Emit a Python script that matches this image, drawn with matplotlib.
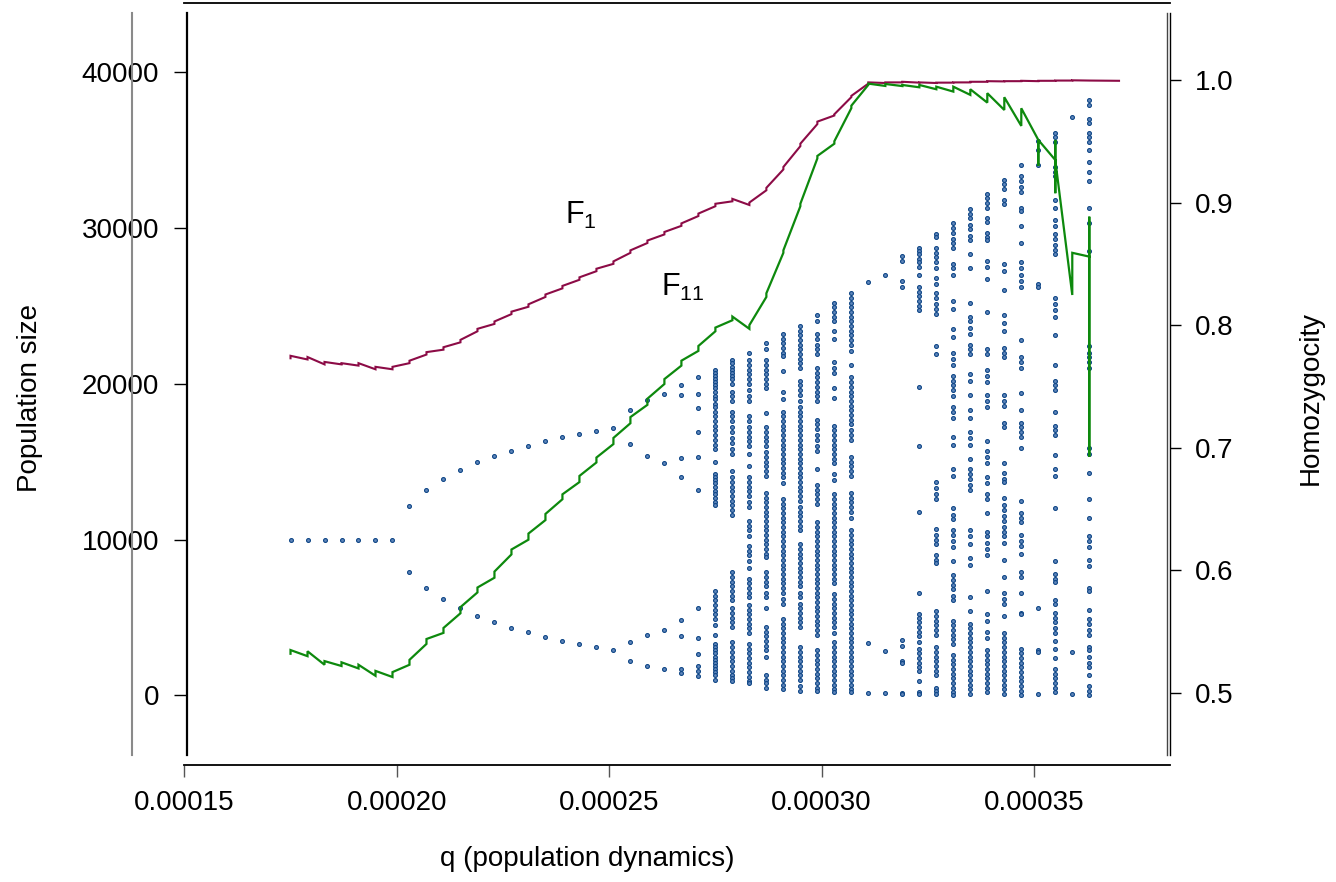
import matplotlib.pyplot as plt

plt.rcParams['font.family'] = ['Liberation Sans', 'DejaVu Sans']
plt.rcParams['mathtext.fontset'] = 'custom'
plt.rcParams['mathtext.rm'] = 'Liberation Sans'

# q values (one column of the bifurcation diagram each)
q = [0.000175, 0.000179, 0.000183, 0.000187, 0.000191, 0.000195, 0.000199,
     0.000203, 0.000207, 0.000211, 0.000215, 0.000219, 0.000223, 0.000227,
     0.000231, 0.000235, 0.000239, 0.000243, 0.000247, 0.000251, 0.000255,
     0.000259, 0.000263, 0.000267, 0.000271, 0.000275, 0.000279, 0.000283,
     0.000287, 0.000291, 0.000295, 0.000299, 0.000303, 0.000307, 0.000311,
     0.000315, 0.000319, 0.000323, 0.000327, 0.000331, 0.000335, 0.000339,
     0.000343, 0.000347, 0.000351, 0.000355, 0.000359, 0.000363]
# F1 homozygosity was run one step further
q_f1 = q + [0.00037]

# population sizes visited at each q (thousands)
pop_k = [
    [10.0], [10.0], [10.0], [10.0], [10.0], [10.0], [10.0],
    [12.14, 7.94], [13.18, 6.92], [13.91, 6.17], [14.49, 5.61],
    [14.96, 5.12], [15.36, 4.72], [15.70, 4.35], [16.02, 4.05],
    [16.31, 3.77], [16.56, 3.52], [16.78, 3.28], [16.99, 3.09],
    [17.16, 2.90],
    [18.33, 16.13, 3.45, 2.23],
    [18.96, 15.38, 3.88, 1.91],
    [19.36, 14.92, 4.18, 1.70],
    [19.92, 19.26, 15.25, 14.04, 4.84, 3.82, 1.70, 1.46],
    [20.43, 19.34, 18.44, 16.90, 15.30, 13.18, 5.61, 3.69, 2.66, 1.89, 1.57, 1.25],
    [20.9, 20.7, 20.5, 20.3, 20.1, 19.9, 19.7, 19.5, 19.2, 19.0, 18.7, 18.5, 18.2,
     17.9, 17.6, 17.3, 17.0, 16.7, 16.4, 16.1, 15.8, 15.0, 14.2, 14.0, 13.8, 13.6,
     13.4, 13.1, 12.9, 12.7, 12.4, 12.2, 6.7, 6.4, 6.1, 5.8, 5.5, 5.2, 4.9, 4.5,
     3.85, 3.3, 3.1, 2.9, 2.7, 2.5, 2.3, 2.1, 1.9, 1.7, 1.5, 1.3, 1.0],
    [21.5, 21.3, 21.1, 20.9, 20.7, 20.5, 20.3, 20.0, 19.5, 19.2, 18.9, 18.2, 17.9,
     17.6, 17.2, 16.9, 16.5, 16.2, 15.8, 15.5, 14.4, 14.0, 13.7, 13.4, 13.1, 12.8,
     12.5, 12.2, 11.9, 11.6, 7.9, 7.6, 7.3, 7.0, 6.7, 6.4, 6.1, 5.6, 5.3, 5.0, 4.7,
     4.4, 3.4, 3.1, 2.8, 2.5, 2.2, 1.9, 1.6, 1.3, 1.1, 0.9],
    [22.0, 21.5, 21.2, 20.9, 20.6, 20.3, 20.0, 19.6, 19.2, 18.9, 17.9, 17.6, 17.2,
     16.9, 16.6, 16.3, 16.0, 15.5, 14.7, 14.0, 13.7, 13.4, 13.1, 12.8, 12.4, 12.1,
     11.2, 10.9, 10.6, 10.2, 9.6, 9.3, 9.0, 8.6, 8.2, 7.5, 7.2, 6.9, 6.6, 6.3, 5.8,
     5.5, 5.2, 4.9, 4.6, 4.3, 4.0, 3.3, 3.0, 2.7, 2.4, 2.1, 1.8, 1.5, 1.2, 0.9, 0.8],
    [22.6, 22.2, 21.5, 21.2, 20.9, 20.6, 20.3, 20.0, 19.7, 18.1, 17.2, 16.9, 16.6,
     16.3, 16.0, 15.6, 15.3, 15.0, 14.7, 14.4, 14.1, 13.0, 12.7, 12.4, 12.1, 11.8,
     11.5, 11.2, 10.9, 10.6, 10.3, 10.0, 9.7, 9.4, 9.1, 8.9, 7.9, 7.6, 7.3, 7.0, 6.6,
     6.3, 5.6, 4.4, 4.1, 3.8, 3.5, 3.2, 2.9, 2.5, 1.3, 1.0, 0.8, 0.5],
    [23.2, 22.9, 22.6, 22.3, 22.0, 21.8, 20.8, 19.5, 19.0, 18.2, 17.9, 17.6, 17.3,
     17.0, 16.7, 16.4, 16.1, 15.8, 15.5, 15.2, 14.9, 14.6, 14.3, 14.0, 13.6, 12.6,
     12.3, 12.0, 11.7, 11.4, 11.1, 10.8, 10.5, 10.2, 9.9, 9.6, 9.3, 9.0, 8.7, 8.4,
     8.1, 7.8, 7.5, 7.2, 6.9, 6.6, 6.2, 5.9, 4.9, 4.6, 4.3, 4.0, 3.7, 3.4, 3.1, 2.8,
     2.5, 2.2, 1.9, 1.6, 1.3, 1.0, 0.7, 0.4],
    [23.7, 23.4, 23.1, 22.8, 22.5, 22.2, 21.9, 21.6, 21.3, 21.0, 20.2, 19.9, 19.6,
     19.3, 18.9, 18.5, 18.2, 17.9, 17.6, 17.3, 17.0, 16.7, 16.4, 16.1, 15.8, 15.5,
     15.2, 14.9, 14.6, 14.3, 14.0, 13.7, 13.4, 13.1, 12.8, 12.5, 12.1, 11.8, 11.5,
     11.2, 10.9, 10.6, 9.7, 9.4, 9.1, 8.8, 8.5, 8.2, 7.9, 7.6, 7.3, 7.0, 6.6, 6.3,
     5.9, 5.6, 5.3, 5.0, 4.7, 4.4, 3.1, 2.8, 2.5, 2.2, 1.9, 1.6, 1.3, 1.0, 0.6, 0.3],
    [24.4, 24.0, 23.2, 22.9, 22.5, 22.2, 21.9, 21.0, 20.7, 20.4, 20.1, 19.8, 19.5,
     19.2, 18.9, 17.7, 17.4, 17.1, 16.7, 16.4, 16.0, 15.7, 14.5, 13.5, 13.2, 12.9,
     12.6, 12.3, 11.1, 10.8, 10.5, 10.2, 9.9, 9.6, 9.3, 9.0, 8.7, 8.4, 8.1, 7.8, 7.5,
     7.2, 6.9, 6.6, 6.3, 6.0, 5.7, 5.4, 5.1, 4.8, 4.5, 4.2, 3.9, 2.9, 2.6, 2.3, 2.0,
     1.7, 1.4, 1.1, 0.8, 0.5, 0.3],
    [25.2, 24.9, 24.6, 24.3, 24.0, 23.4, 22.9, 21.4, 21.0, 20.7, 19.7, 19.1, 17.3,
     17.0, 16.7, 16.4, 16.1, 15.8, 15.5, 15.2, 14.9, 14.2, 13.8, 12.9, 12.6, 12.3,
     12.0, 11.7, 11.4, 11.1, 10.8, 10.5, 10.2, 9.9, 9.6, 9.3, 9.0, 8.7, 8.4, 8.1,
     7.8, 7.5, 7.2, 6.5, 6.2, 5.9, 5.6, 5.3, 5.0, 4.7, 4.4, 4.0, 3.4, 3.1, 2.8, 2.5,
     2.2, 1.9, 1.6, 1.3, 1.0, 0.7, 0.4, 0.2],
    [25.8, 25.5, 25.2, 24.9, 24.6, 24.3, 24.0, 23.7, 23.4, 23.1, 22.8, 22.5, 22.1,
     21.2, 20.4, 20.1, 19.8, 19.5, 19.2, 18.9, 18.6, 18.3, 18.0, 17.7, 17.4, 17.0,
     16.7, 16.4, 15.3, 15.0, 14.7, 14.4, 14.1, 13.0, 12.7, 12.4, 12.1, 11.8, 11.4,
     10.6, 10.3, 10.0, 9.7, 9.4, 9.1, 8.8, 8.5, 8.2, 7.9, 7.6, 7.3, 7.0, 6.7, 6.4,
     6.1, 5.8, 5.5, 5.2, 4.9, 4.6, 4.3, 4.0, 3.7, 3.4, 3.1, 2.8, 2.5, 2.2, 1.9, 1.6,
     1.3, 1.0, 0.7, 0.4, 0.2],
    [26.5, 3.35, 0.17],
    [27.0, 2.85, 0.15],
    [28.2, 27.9, 26.6, 26.2, 3.58, 3.18, 2.24, 2.10, 0.17, 0.11],
    [28.7, 28.5, 28.3, 28.0, 27.8, 27.5, 27.0, 26.2, 25.9, 25.6, 25.3, 25.0, 24.7,
     19.8, 16.0, 11.8, 6.6, 5.2, 5.0, 4.7, 4.4, 4.1, 3.8, 3.4, 3.0, 2.7, 2.4, 2.1,
     1.8, 1.6, 0.9, 0.2, 0.1],
    [29.6, 29.4, 28.7, 28.4, 28.1, 27.8, 27.4, 26.8, 26.4, 25.8, 25.5, 25.1, 24.8,
     24.5, 22.4, 21.9, 13.7, 13.3, 12.9, 12.6, 10.7, 10.3, 10.0, 9.7, 9.0, 8.7, 8.5,
     5.4, 5.1, 4.8, 4.5, 4.2, 3.9, 3.1, 2.8, 2.5, 2.2, 1.9, 1.6, 1.3, 0.5, 0.3, 0.1],
    [30.3, 30.0, 29.7, 29.3, 29.0, 28.7, 27.7, 27.4, 27.0, 25.3, 24.8, 23.5, 23.0,
     22.0, 21.6, 21.2, 20.5, 20.2, 19.9, 19.6, 19.2, 18.5, 18.2, 17.8, 16.6, 16.1,
     14.5, 14.1, 12.0, 11.6, 11.3, 10.6, 10.3, 9.9, 9.5, 8.6, 7.7, 7.4, 7.1, 6.8,
     6.4, 6.1, 4.8, 4.5, 4.2, 3.9, 3.6, 3.3, 2.6, 2.3, 2.0, 1.7, 1.4, 1.1, 0.8, 0.5,
     0.2, 0.0],
    [31.2, 30.9, 30.6, 30.2, 29.9, 29.5, 29.2, 28.3, 27.4, 25.2, 24.3, 24.0, 23.6,
     23.2, 22.5, 22.2, 21.9, 20.6, 20.2, 19.3, 18.3, 17.8, 16.9, 16.5, 16.1, 15.2,
     14.5, 14.2, 13.9, 13.5, 13.2, 10.6, 10.2, 9.7, 8.8, 8.4, 6.3, 5.4, 4.6, 4.3,
     4.0, 3.7, 3.4, 3.1, 2.8, 2.5, 2.2, 1.9, 1.6, 1.3, 1.0, 0.7, 0.4, 0.1],
    [32.2, 31.9, 31.6, 31.3, 30.6, 30.4, 29.7, 29.4, 29.2, 27.9, 27.5, 26.7, 24.6,
     22.2, 21.9, 20.9, 20.5, 20.1, 19.3, 18.9, 18.5, 16.3, 15.7, 15.3, 14.9, 14.0,
     13.6, 12.9, 12.6, 11.7, 10.5, 10.2, 9.8, 9.4, 9.0, 6.7, 5.2, 4.8, 4.1, 3.7,
     2.9, 2.6, 2.3, 2.0, 1.7, 1.4, 1.1, 0.8, 0.5, 0.2],
    [33.1, 32.8, 32.5, 31.8, 31.5, 27.7, 27.2, 26.0, 24.4, 23.9, 23.4, 22.3, 22.0,
     21.7, 19.3, 18.9, 18.6, 17.5, 17.2, 14.9, 14.3, 13.9, 13.7, 12.7, 12.2, 11.9,
     11.5, 11.2, 10.8, 10.5, 10.2, 9.8, 8.7, 7.6, 6.6, 6.2, 5.9, 5.1, 4.0, 3.7, 3.4,
     3.1, 2.8, 2.5, 2.2, 1.9, 1.6, 1.3, 1.0, 0.7, 0.4, 0.1],
    [34.0, 33.3, 33.0, 32.6, 32.3, 31.3, 31.1, 30.1, 29.0, 27.8, 27.4, 27.0, 26.6,
     26.2, 22.8, 21.7, 21.4, 21.0, 19.4, 18.3, 17.5, 17.2, 16.9, 16.6, 15.9, 12.5,
     11.7, 11.4, 11.1, 10.3, 9.9, 9.6, 9.1, 7.9, 7.6, 6.6, 5.3, 5.2, 3.0, 2.7, 2.4,
     2.1, 1.8, 1.5, 1.2, 0.9, 0.6, 0.3, 0.0],
    [35.6, 35.0, 34.0, 26.4, 26.2, 5.6, 2.9, 2.8, 0.1],
    [36.1, 35.8, 35.5, 33.9, 33.6, 33.3, 31.8, 31.3, 30.5, 30.1, 29.6, 29.3, 28.9,
     28.6, 28.3, 25.5, 25.1, 24.7, 24.3, 23.1, 21.2, 20.2, 19.9, 19.6, 18.2, 17.3,
     17.0, 16.7, 15.4, 14.5, 14.1, 12.0, 8.6, 7.8, 7.5, 7.3, 6.1, 5.9, 5.3, 5.0,
     4.7, 4.3, 4.0, 3.5, 3.0, 2.4, 1.7, 1.4, 1.1, 0.8, 0.5, 0.2],
    [37.1, 2.78, 0.11],
    [38.2, 37.9, 37.0, 36.7, 36.1, 35.8, 35.5, 35.0, 34.2, 33.6, 33.0, 31.3, 30.3,
     28.5, 22.4, 22.0, 21.7, 21.4, 21.0, 15.9, 15.5, 14.3, 12.6, 11.4, 10.2, 9.9,
     9.5, 8.7, 8.3, 6.9, 6.7, 5.5, 4.9, 4.6, 4.2, 3.9, 3.1, 2.9, 2.5, 2.1, 1.8, 1.3,
     0.6, 0.3, 0.0],
]

# homozygosity of replicate runs at each q, in the order they were joined
f1_runs = [
    [0.773, 0.775], [0.772, 0.774], [0.768, 0.770], [0.768, 0.769],
    [0.767, 0.769], [0.764, 0.766], [0.764, 0.766], [0.769, 0.771],
    [0.776, 0.778], [0.780, 0.782], [0.786, 0.788], [0.795, 0.797],
    [0.801, 0.803], [0.809, 0.811], [0.815, 0.817], [0.823, 0.825],
    [0.830, 0.832], [0.837, 0.839], [0.844, 0.846], [0.850, 0.852],
    [0.859, 0.861], [0.867, 0.869], [0.874, 0.876], [0.881, 0.883],
    [0.889, 0.891], [0.897, 0.899], [0.901, 0.903], [0.898, 0.900],
    [0.910, 0.912], [0.927, 0.929], [0.946, 0.948], [0.964, 0.966],
    [0.971, 0.972], [0.986, 0.987], [0.997, 0.998], [0.9975, 0.998],
    [0.998, 0.9985], [0.9978, 0.998], [0.9975, 0.9978], [0.9978, 0.998],
    [0.998, 0.9985], [0.9985, 0.999], [0.9988, 0.999], [0.999, 0.9993],
    [0.999, 0.9993], [0.9993, 0.9995], [0.9995, 0.9997], [0.9995, 0.9995],
    [0.9993, 0.9993],
]

f11_runs = [
    [0.532, 0.535], [0.530, 0.534], [0.523, 0.526], [0.522, 0.525],
    [0.520, 0.523], [0.514, 0.518], [0.513, 0.517], [0.523, 0.527],
    [0.540, 0.544], [0.549, 0.553], [0.565, 0.570], [0.582, 0.586],
    [0.594, 0.599], [0.613, 0.617], [0.625, 0.630], [0.641, 0.646],
    [0.658, 0.662], [0.672, 0.677], [0.688, 0.692], [0.703, 0.708],
    [0.720, 0.725], [0.735, 0.740], [0.752, 0.756], [0.767, 0.771],
    [0.779, 0.783], [0.795, 0.798], [0.804, 0.807], [0.797, 0.800],
    [0.823, 0.826], [0.859, 0.861], [0.897, 0.899], [0.936, 0.938],
    [0.948, 0.950], [0.977, 0.979], [0.996, 0.997], [0.9951, 0.9967],
    [0.9950, 0.9959], [0.9940, 0.9959], [0.9924, 0.9945], [0.9905, 0.9945],
    [0.9878, 0.9924], [0.9815, 0.9892], [0.9755, 0.9859], [0.9625, 0.9769],
    [0.9511, 0.9299, 0.9511], [0.9347, 0.9076, 0.9511, 0.9347],
    [0.8246, 0.8590], [0.8559, 0.6928, 0.8885, 0.8559],
]

x_ticks = [0.00015, 0.00020, 0.00025, 0.00030, 0.00035]
x_ticklabels = ['0.00015', '0.00020', '0.00025', '0.00030', '0.00035']
pop_ticks = [0, 10000, 20000, 30000, 40000]
h_ticks = [0.5, 0.6, 0.7, 0.8, 0.9, 1.0]

W, H = 1336, 882
fig = plt.figure(figsize=(W / 100, H / 100), dpi=100)
ax = fig.add_axes([184.3 / W, 1 - 755 / H, (1170 - 184.3) / W, 742 / H])
ax2 = ax.twinx()

# scatter of population sizes
px, py = [], []
for qi, vals in zip(q, pop_k):
    for v in vals:
        px.append(qi)
        py.append(v * 1000)
ax.plot(px, py, 'o', ms=2.8, mew=0.8, mec='#0f4686', mfc='#5f86bb',
        ls='none', zorder=2)

ax.set_xlim(0.00015, 0.000382)
ax.set_ylim(-3817, 43782)
ax2.set_ylim(0.4494, 1.0546)


def joined(qs, runs):
    xs, ys = [], []
    for qi, vals in zip(qs, runs):
        for v in vals:
            xs.append(qi)
            ys.append(v)
    return xs, ys


x1, y1 = joined(q_f1, f1_runs)
x11, y11 = joined(q, f11_runs)
ax2.plot(x1, y1, color='#8c0b46', lw=1.5, solid_joinstyle='miter')
ax2.plot(x11, y11, color='#0d890d', lw=1.6, solid_joinstyle='miter')

ax2.text(0.0002396, 0.8825, r'F$_\mathregular{1}$', fontsize=22, va='baseline', ha='left')
ax2.text(0.0002621, 0.8238, r'F$_\mathregular{11}$', fontsize=22, va='baseline', ha='left')

# spines, R-like
for s in ['top', 'right', 'bottom', 'left']:
    ax.spines[s].set_linewidth(1.3)
ax.spines['top'].set_position(('outward', 7.2))
ax.spines['bottom'].set_position(('outward', 7.2))
ax.spines['left'].set_position(('axes', 2.4 / 985.7))
ax.spines['left'].set_linewidth(1.6)
ax.spines['right'].set_position(('axes', 1 - 3 / 985.7))
ax.spines['right'].set_color('#444444')
ax.spines['right'].set_linewidth(1.0)

ax2.spines['top'].set_visible(False)
ax2.spines['bottom'].set_visible(False)
ax2.spines['left'].set_position(('outward', 38.0))
ax2.spines['left'].set_color('#8a8a8a')
ax2.spines['left'].set_linewidth(1.5)
ax2.spines['right'].set_linewidth(1.0)

ax.set_xticks(x_ticks)
ax.set_xticklabels(x_ticklabels)
ax.set_yticks(pop_ticks)
ax.set_yticklabels([str(t) for t in pop_ticks])
ax.tick_params(axis='x', length=8.6, width=1.0, color='#555555', pad=9.5,
               labelsize=20)
ax.tick_params(axis='y', length=9.2, width=1.0, pad=10.5, labelsize=20)

ax2.set_yticks(h_ticks)
ax2.set_yticklabels(['%.1f' % t for t in h_ticks])
ax2.tick_params(axis='y', length=8.0, width=1.0, pad=10.0, labelsize=20)

fig.text(30 / W, 1 - 397.5 / H, 'Population size', rotation=90,
         ha='center', va='center', fontsize=20)
fig.text(1311 / W, 1 - 398 / H, 'Homozygocity', rotation=90,
         ha='center', va='center', fontsize=20)
fig.text(587 / W, 1 - 859 / H, 'q (population dynamics)',
         ha='center', va='center', fontsize=20)

fig.savefig('out.png', dpi=100)
